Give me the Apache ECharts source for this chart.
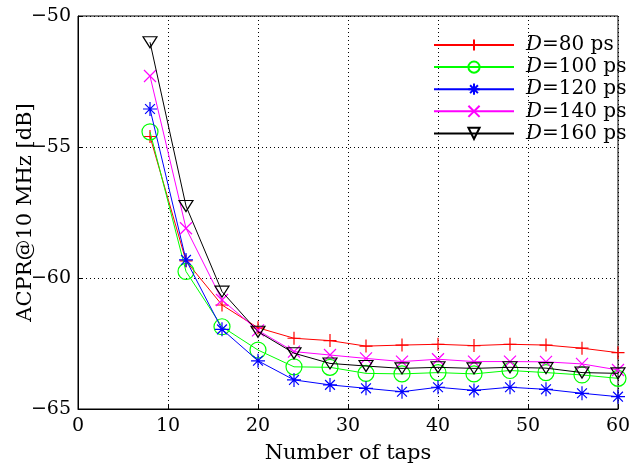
<!DOCTYPE html>
<html><head><meta charset="utf-8">
<script src="https://cdn.jsdelivr.net/npm/echarts@6/dist/echarts.min.js"></script>
<style>html,body{margin:0;padding:0;background:#fff}#c{width:630px;height:466px}</style>
</head><body><div id="c"></div>
<script>
const taps = [8,12,16,20,24,28,32,36,40,44,48,52,56,60];
const d80  = [-54.6,-59.35,-61.03,-61.9,-62.3,-62.39,-62.6,-62.56,-62.53,-62.58,-62.53,-62.56,-62.68,-62.85];
const d100 = [-54.42,-59.75,-61.86,-62.75,-63.39,-63.41,-63.64,-63.66,-63.61,-63.66,-63.53,-63.61,-63.7,-63.83];
const d120 = [-53.55,-59.31,-61.96,-63.16,-63.89,-64.08,-64.21,-64.34,-64.17,-64.29,-64.17,-64.25,-64.4,-64.53];
const d140 = [-52.29,-58.1,-60.84,-62.0,-62.81,-62.94,-63.07,-63.19,-63.1,-63.19,-63.19,-63.2,-63.28,-63.51];
const d160 = [-51.0,-57.25,-60.52,-62.05,-62.87,-63.26,-63.36,-63.45,-63.41,-63.45,-63.41,-63.44,-63.61,-63.64];
const names = ['D=80 ps','D=100 ps','D=120 ps','D=140 ps','D=160 ps'];
const xTicks = [0,10,20,30,40,50,60];
const yTicks = [-65,-60,-55,-50];

const FONT = '"DejaVu Serif", serif';
const colors = ['#ff0000','#00ff00','#0000ff','#ff00ff','#000000'];
const symbols = [
  'path://M0,5L10,5M5,0L5,10',
  'circle',
  'path://M0,5L10,5M5,0L5,10M1.5,1.5L8.5,8.5M1.5,8.5L8.5,1.5',
  'path://M0,0L10,10M0,10L10,0',
  'path://M0,0L10,0L5,8.66Z'
];
const sizes = [13, 16, 14, 12, [14,11]];
const datas = [d80,d100,d120,d140,d160];

const series = datas.map((d,i)=>({
  name: names[i],
  type: 'line',
  data: taps.map((x,j)=>[x,d[j]]),
  symbol: symbols[i],
  symbolSize: sizes[i],
  showAllSymbol: true,
  lineStyle: {color: colors[i], width: 1},
  itemStyle: {color: 'rgba(0,0,0,0)', borderColor: colors[i], borderWidth: 1.2},
  emphasis: {disabled: true},
  animation: false,
  z: 3 + i
}));

const chart = echarts.init(document.getElementById('c'), null, {renderer: 'canvas'});
chart.setOption({
  backgroundColor: '#fff',
  animation: false,
  grid: {left: 78, right: 12, top: 16, bottom: 57, outerBoundsMode: 'none', containLabel: false,
    show: true, borderColor: '#000', borderWidth: 1, backgroundColor: 'transparent'},
  legend: {
    orient: 'vertical', left: 433, top: 35, padding: 0,
    itemWidth: 80, itemHeight: 14, itemGap: 2.1,
    data: names,
    selectedMode: false,
    formatter: n => '{i|D}{n|' + n.slice(1) + '}',
    textStyle: {
      fontFamily: FONT, fontSize: 20, color: '#000', padding: [0,0,0,7],
      rich: {
        i: {fontFamily: FONT, fontStyle: 'italic', fontSize: 20, lineHeight: 20, color: '#000'},
        n: {fontFamily: FONT, fontSize: 20, lineHeight: 20, color: '#000'}
      }
    }
  },
  xAxis: {
    type: 'value', min: 0, max: 60, interval: 10,
    name: 'Number of taps', nameLocation: 'middle', nameGap: 34, nameMoveOverlap: false,
    nameTextStyle: {fontFamily: FONT, fontSize: 21, color: '#000'},
    axisLine: {show: true, onZero: false, lineStyle: {color: '#000', width: 1}},
    axisTick: {show: true, inside: true, length: 5, lineStyle: {color: '#000'}},
    axisLabel: {fontFamily: FONT, fontSize: 19, color: '#000', margin: 8,
      formatter: v => xTicks.includes(v) ? String(v) : ''},
    splitLine: {show: true, lineStyle: {color: '#000', type: [1,3], width: 1}}
  },
  yAxis: {
    type: 'value', min: -65, max: -50, interval: 5,
    name: 'ACPR@10 MHz [dB]', nameLocation: 'middle', nameGap: 42, nameRotate: 90, nameMoveOverlap: false,
    nameTextStyle: {fontFamily: FONT, fontSize: 21, color: '#000'},
    axisLine: {show: true, onZero: false, lineStyle: {color: '#000', width: 1}},
    axisTick: {show: true, inside: true, length: 5, lineStyle: {color: '#000'}},
    axisLabel: {fontFamily: FONT, fontSize: 19, color: '#000', margin: 7,
      formatter: v => yTicks.includes(v) ? ('\u2212' + Math.abs(v)) : ''},
    splitLine: {show: true, lineStyle: {color: '#000', type: [1,3], width: 1}}
  },
  series: series
});
</script>
</body></html>
